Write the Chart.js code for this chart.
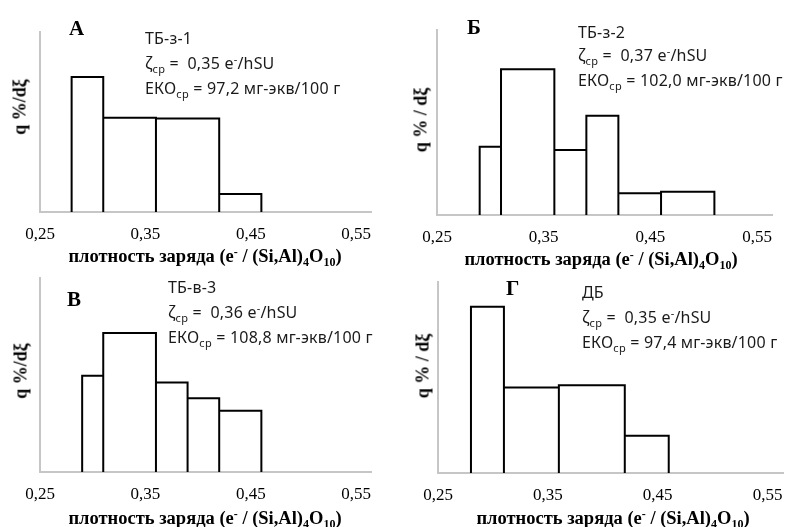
<!DOCTYPE html>
<html>
<head>
<meta charset="utf-8">
<script src="https://cdn.jsdelivr.net/npm/chart.js@4.4.1/dist/chart.umd.min.js"></script>
<style>
  body { margin: 0; background: #fff; }
  #wrap { position: relative; width: 790px; height: 527px; overflow: hidden; background: #fff; }
  canvas { position: absolute; }
  .letter { position: absolute; font: bold 21px "Liberation Serif", serif; color: #000; line-height: 22px; }
  .note { position: absolute; font: 16px "Noto Sans", sans-serif; color: #1a1a1a; line-height: 20px; height: 20px; white-space: nowrap; letter-spacing: 0.2px; }
  .note sub, .note sup, .xt sub, .xt sup { vertical-align: baseline; position: relative; line-height: 0; }
  .note sub { font-size: 11px; top: 4px; }
  .note sup { font-size: 11px; top: -6px; }
  .xt { position: absolute; font: bold 18.5px "Liberation Serif", serif; color: #000; white-space: nowrap; transform: translate(-50%, -50%); }
  .xt sub { font-size: 12px; top: 4px; }
  .xt sup { font-size: 12px; top: -6px; }
  .yt { position: absolute; font: bold 18px "Liberation Serif", serif; color: #000; white-space: nowrap; transform: translate(-50%, -50%) rotate(-90deg); }
</style>
</head>
<body>
<div id="wrap"></div>
<script>
// tick labels on the charge density axis
var xTicks = [0.25, 0.35, 0.45, 0.55];

// bin edges and bar heights (relative units, axis top = 100)
var edgesA = [0.28, 0.31, 0.36, 0.42, 0.46];
var heightsA = [75, 52.4, 51.9, 10];

var edgesB = [0.29, 0.31, 0.36, 0.39, 0.42, 0.46, 0.51];
var heightsB = [36.9, 78.8, 35.1, 53.7, 11.7, 12.6];

var edgesC = [0.29, 0.31, 0.36, 0.39, 0.42, 0.46];
var heightsC = [49.6, 71.7, 46.1, 38, 31.6];

var edgesD = [0.28, 0.31, 0.36, 0.42, 0.46];
var heightsD = [87, 44.7, 45.9, 19.5];

var panels = [
    { letter: 'А', sample: 'ТБ-з-1', zeta: '0,35', eko: '97,2', edges: edgesA, heights: heightsA, ytitle: 'q %/dξ',
      area: { l: 40, t: 32, r: 371, b: 212 }, letterPos: [69, 17], noteX: 145, noteY: [38, 63, 88], xtPos: [205, 256], ytPos: [20, 107] },
    { letter: 'Б', sample: 'ТБ-з-2', zeta: '0,37', eko: '102,0', edges: edgesB, heights: heightsB, ytitle: 'q % / dξ',
      area: { l: 437, t: 30, r: 772, b: 215 }, letterPos: [467, 16], noteX: 578, noteY: [32, 55, 80], xtPos: [601, 259], ytPos: [421, 120] },
    { letter: 'В', sample: 'ТБ-в-3', zeta: '0,36', eko: '108,8', edges: edgesC, heights: heightsC, ytitle: 'q %/dξ',
      area: { l: 40, t: 278, r: 371, b: 472 }, letterPos: [67, 288], noteX: 168, noteY: [287, 312, 337], xtPos: [205, 518], ytPos: [21, 371] },
    { letter: 'Г', sample: 'ДБ', zeta: '0,35', eko: '97,4', edges: edgesD, heights: heightsD, ytitle: 'q % / dξ',
      area: { l: 438, t: 282, r: 783, b: 473 }, letterPos: [506, 277], noteX: 582, noteY: [292, 317, 342], xtPos: [613, 518], ytPos: [423, 366] }
];

// outline of the histogram: verticals at each edge, tops of each bin
function stepPoints(edges, heights) {
    var pts = [{ x: edges[0], y: 0 }];
    for (var i = 0; i < heights.length; i++) {
        pts.push({ x: edges[i], y: heights[i] });
        pts.push({ x: edges[i + 1], y: heights[i] });
        pts.push({ x: edges[i + 1], y: 0 });
    }
    return pts;
}

function addDiv(cls, html, x, y) {
    var d = document.createElement('div');
    d.className = cls;
    d.innerHTML = html;
    d.style.left = x + 'px';
    d.style.top = y + 'px';
    document.getElementById('wrap').appendChild(d);
}

function drawPanel(p) {
    var padL = 30, padT = 10, padR = 16, xH = 36;
    var a = p.area;
    var cv = document.createElement('canvas');
    var w = a.r - a.l + padL + padR;
    var h = a.b - a.t + padT + xH;
    cv.width = w; cv.height = h;
    cv.style.left = (a.l - padL) + 'px';
    cv.style.top = (a.t - padT) + 'px';
    cv.style.width = w + 'px';
    cv.style.height = h + 'px';
    document.getElementById('wrap').appendChild(cv);

    new Chart(cv.getContext('2d'), {
        type: 'scatter',
        data: {
            datasets: [{
                data: stepPoints(p.edges, p.heights),
                showLine: true,
                borderColor: '#000',
                borderWidth: 2,
                pointRadius: 0,
                fill: false,
                tension: 0
            }]
        },
        options: {
            responsive: false,
            animation: false,
            layout: { padding: { left: padL, top: padT, right: padR, bottom: 0 } },
            plugins: { legend: { display: false }, tooltip: { enabled: false } },
            scales: {
                x: {
                    type: 'linear',
                    min: 0.25,
                    max: 0.564,
                    z: 1,
                    grid: { display: false },
                    border: { color: '#c6c6c6', width: 2 },
                    afterBuildTicks: function (s) { s.ticks = xTicks.map(function (v) { return { value: v }; }); },
                    afterFit: function (s) { s.height = xH; },
                    ticks: {
                        padding: 4,
                        autoSkip: false,
                        maxRotation: 0,
                        color: '#000',
                        font: { family: 'Liberation Serif', size: 17 },
                        callback: function (v) { return v.toFixed(2).replace('.', ','); }
                    }
                },
                y: {
                    min: 0,
                    max: 100,
                    grid: { display: false },
                    border: { color: '#c6c6c6', width: 2 },
                    ticks: { display: false },
                    afterFit: function (s) { s.width = 0; }
                }
            }
        }
    });

    addDiv('letter', p.letter, p.letterPos[0], p.letterPos[1]);
    var lines = [
        p.sample,
        'ζ<sub>ср</sub> =&nbsp; ' + p.zeta + ' e<sup>-</sup>/hSU',
        'ЕКО<sub>ср</sub> = ' + p.eko + ' мг-экв/100 г'
    ];
    lines.forEach(function (txt, i) {
        addDiv('note', txt, p.noteX, p.noteY[i] - 10.5);
    });
    addDiv('xt', 'плотность заряда (e<sup>-</sup> / (Si,Al)<sub>4</sub>O<sub>10</sub>)', p.xtPos[0], p.xtPos[1]);
    addDiv('yt', p.ytitle, p.ytPos[0], p.ytPos[1]);
}

panels.forEach(drawPanel);
</script>
</body>
</html>
